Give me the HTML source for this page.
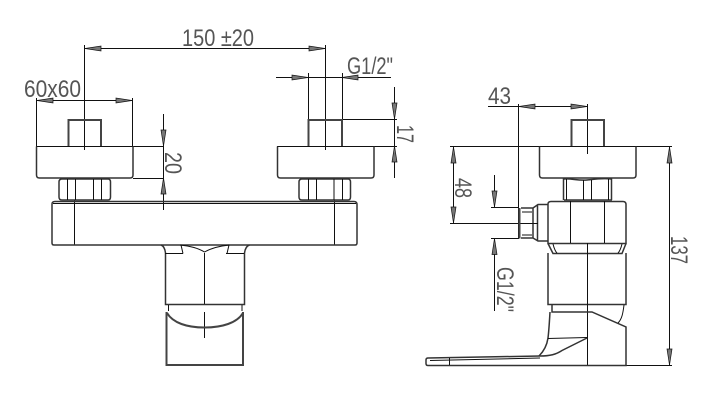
<!DOCTYPE html>
<html><head><meta charset="utf-8"><style>
html,body{margin:0;padding:0;background:#fff;width:713px;height:403px;overflow:hidden}
svg{display:block}
text{font-family:"Liberation Sans",sans-serif;fill:#555;font-size:24px}
.t{fill:none;stroke:#111;stroke-width:1}
.m{fill:none;stroke:#333;stroke-width:1.5}
.h{fill:none;stroke:#444;stroke-width:2}
.a{fill:#777;stroke:#111;stroke-width:.7}
</style></head><body>
<svg width="713" height="403" viewBox="0 0 713 403" xmlns="http://www.w3.org/2000/svg">
<!-- LEFT VIEW dims -->
<path class="t" d="M84.500 45V150M325.500 45V150M84 48.500H325M36.500 100.500H132.500M36.500 98V146M132.500 98V146
M36 146.500H163M133 178.500H163M163.500 114V210
M276 77.500H391M308.500 73V119M342.500 73V119M342 119.500H397M277 146.500H397M394.500 87V178
M74.500 200V245M334.500 200V245M204.500 253V304M204.500 312V338"/>
<path class="a" d="M85 48.500l16-2.500v5zM325 48.500l-16-2.500v5zM37 100.500l16-2.500v5zM132 100.500l-16-2.500v5z
M163.500 146l-2.500-16h5zM163.500 178l-2.500 16h5zM308 77.500l-16-2.500v5zM342 77.500l16-2.500v5z
M394.500 119l-2.500-16h5zM394.500 146l-2.500 16h5z"/>
<text x="24" y="97" textLength="57" lengthAdjust="spacingAndGlyphs">60x60</text>
<text x="182" y="46" textLength="72" lengthAdjust="spacingAndGlyphs">150 ±20</text>
<text x="347" y="74" textLength="46" lengthAdjust="spacingAndGlyphs">G1/2"</text>
<text transform="translate(165 152) rotate(90)" textLength="22" lengthAdjust="spacingAndGlyphs">20</text>
<text transform="translate(397 125) rotate(90)" textLength="18" lengthAdjust="spacingAndGlyphs">17</text>
<!-- LEFT VIEW shapes -->
<path class="h" d="M68.500 146V120H101V146M308.500 146V120H342V146"/>
<path class="m" d="M36.500 146.500V175q0 3 3 3H130q3 0 3-3V146.500M277.500 146.500V175q0 3 3 3H371q3 0 3-3V146.500"/>
<path class="m" d="M62 179h46q2.500 0 2.500 3v15q0 3-2.500 3H62q-3 0-3-3v-15q0-3 3-3zM302 179h46q2.500 0 2.500 3v15q0 3-2.500 3H302q-3 0-3-3v-15q0-3 3-3z"/>
<path class="t" d="M67.500 179V200M75.500 179V200M93.500 179V200M101.500 179V200M308.500 179V200M316.500 179V200M334 179V200M342.500 179V200"/>
<path class="m" d="M55 201.500H354q3 0 3 3V243q0 2-2 2H54q-2 0-2-2V204q0-2.500 3-2.500z"/>
<path class="t" d="M53 203.500H356"/>
<path class="m" d="M161 245c3 1 4 4 4.500 8V304.500H244.500V253c.5-4 2-7 5-8"/>
<path class="t" d="M165 253.500H183M226 253.500H244M181 245l2 8.500M229 245l-2 8.500M180 245c10 1 18 3 24.500 7c7-4 15-6 25-7"/>
<path class="t" d="M168.500 305V311M242 305V311"/>
<path class="h" d="M166.500 312V365H243V312"/>
<path class="h" d="M167 313c6 10 20 14.500 37.500 14.500S237 323 243 313"/>
<!-- RIGHT VIEW dims -->
<path class="t" d="M488 106.500H587M518.500 104V238M587.500 104V154M450 146.500H672M453.500 146V223M450 223.500H538
M494.500 175V207M491 207.500H519M491 238.500H519M494.500 238V311M669.500 146V365M587 365.500H672"/>
<path class="a" d="M519 106.500l16-2.500v5zM587 106.500l-16-2.500v5zM453.500 147l-2.500 16h5zM453.500 223l-2.500-16h5z
M494.500 207l-2.500-16h5zM494.500 238.500l-2.500 16h5zM669.500 147l-2.500 16h5zM669.500 365l-2.500-16h5z"/>
<text x="488" y="104" textLength="23" lengthAdjust="spacingAndGlyphs">43</text>
<text transform="translate(455 178) rotate(90)" textLength="20" lengthAdjust="spacingAndGlyphs">48</text>
<text transform="translate(497 267) rotate(90)" textLength="45" lengthAdjust="spacingAndGlyphs">G1/2"</text>
<text transform="translate(671 236) rotate(90)" textLength="28" lengthAdjust="spacingAndGlyphs">137</text>
<!-- RIGHT VIEW shapes -->
<path class="h" d="M571.500 146V120H604V146"/>
<path class="m" d="M539.500 146.500V175q0 3 3 3H633q3 0 3-3V146.500"/>
<path class="m" d="M563.500 178.500V200M611.500 178.500V200M564 179c7-1 14 2 23 1s16-2 24-1M564 200H612"/>
<path class="t" d="M566.500 179V200M583.500 180V200M591.500 180V200M608.500 179V200"/>
<path class="m" d="M551 201.500H623q3 0 3 3V243.500H548V204q0-2.500 3-2.500z"/>
<path class="t" d="M570.500 201V243M604.500 201V243"/>
<path class="m" d="M548 243.500L553 253.500H622L626 243.500"/>
<path class="t" d="M553 244c1 4 2 7 4 9M622 244c-1 4-2 7-4 9"/>
<path class="m" d="M548 253V304.500H626V253"/>
<path class="t" d="M587.500 243V365"/>
<path class="h" d="M519.500 208V238.500"/>
<path class="m" d="M521 208H533V238H521M533 208L538 204.500H548M533 238L538 241H548M537.500 205V241"/>
<path class="t" d="M522 212H532M522 223.500H538M522 235H532"/>
<path class="m" d="M552 304.500V312H592L626 327V365.500H428q-2 0-2-2V360q0-2 2-2L540 356c10 0 16-1.500 22-5.500L587 338"/>
<path class="m" d="M550 312c-.5 8-1 18-2 26c-1 7-4 13-9 18"/>
<path class="t" d="M548 338.500L587 337.500M449.500 358V365M624 305c-1 8-2 14-6 18"/>
<path class="t" d="M430 360.500L540 358"/>
</svg>
</body></html>
